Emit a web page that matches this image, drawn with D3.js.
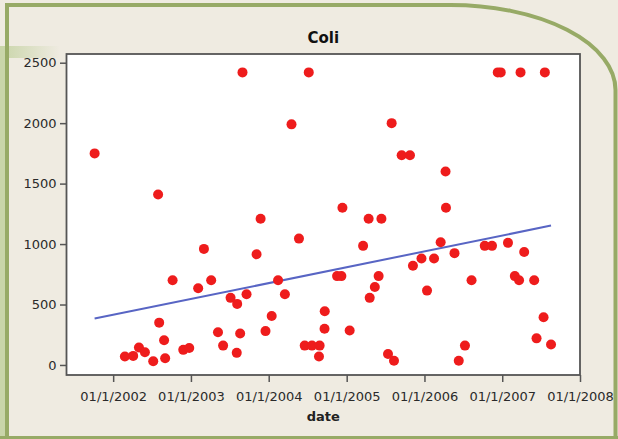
<!DOCTYPE html>
<html lang="en">
<head>
<meta charset="UTF-8">
<title>Coli</title>
<script src="https://cdn.jsdelivr.net/npm/d3@7/dist/d3.min.js"></script>
<style>
  html, body { margin: 0; padding: 0; background: #efebe1; }
  svg { display: block; }
  .axis .tick text { font-family: "DejaVu Sans", sans-serif; font-size: 13px; fill: #2a2a2a; }
  .axis .tick line { stroke: #555; stroke-width: 1.5px; }
  .axis .domain { display: none; }
</style>
</head>
<body>
<script>
// sampling dates and coli counts
const sampleDates = [
  "2001-10-06", "2002-02-25", "2002-04-05", "2002-05-02", "2002-05-30", "2002-07-08",
  "2002-07-31", "2002-08-05", "2002-08-28", "2002-09-02", "2002-10-07", "2002-11-26",
  "2002-12-24", "2003-02-04", "2003-03-03", "2003-04-06", "2003-05-08", "2003-06-01",
  "2003-07-06", "2003-08-06", "2003-08-04", "2003-08-20", "2003-08-31", "2003-09-19",
  "2003-11-05", "2003-11-24", "2003-12-17", "2004-01-15", "2004-02-14", "2004-03-17",
  "2004-04-17", "2004-05-22", "2004-06-18", "2004-07-07", "2004-07-22", "2004-08-24",
  "2004-08-27", "2004-09-20", "2004-09-19", "2004-11-17", "2004-12-07", "2004-12-12",
  "2005-01-15", "2005-03-19", "2005-04-14", "2005-04-19", "2005-05-13", "2005-05-31",
  "2005-06-13", "2005-07-14", "2005-07-31", "2005-08-11", "2005-09-16", "2005-10-25",
  "2005-11-08", "2005-12-18", "2006-01-13", "2006-02-15", "2006-03-18", "2006-04-10",
  "2006-04-12", "2006-05-22", "2006-06-11", "2006-07-10", "2006-08-10", "2006-10-11",
  "2006-11-14", "2006-12-11", "2006-12-25", "2007-01-28", "2007-03-01", "2007-03-21",
  "2007-03-28", "2007-04-14", "2007-05-31", "2007-06-11", "2007-07-14", "2007-07-20",
  "2007-08-18"
];
const coliValues = [
  1750, 70, 75, 145, 105, 30,
  1410, 350, 205, 55, 700, 125,
  140, 635, 960, 700, 270, 160,
  555, 505, 100, 260, 2420, 585,
  915, 1210, 280, 405, 700, 585,
  1990, 1045, 160, 2420, 160, 70,
  160, 445, 300, 735, 735, 1300,
  285, 985, 1210, 555, 645, 735,
  1210, 90, 2000, 35, 1735, 1735,
  820, 880, 615, 880, 1015, 1600,
  1300, 925, 35, 160, 700, 985,
  985, 2420, 2420, 1010, 735, 700,
  2420, 935, 700, 220, 395, 2420,
  170
];
const yTickValues = [0, 500, 1000, 1500, 2000, 2500];
const xTickYears = [2002, 2003, 2004, 2005, 2006, 2007, 2008];

const width = 618, height = 439;
const plot = { left: 66.5, right: 580, top: 54, bottom: 375 };

const parseDate = d3.timeParse("%Y-%m-%d");
const points = sampleDates.map((d, i) => ({ date: parseDate(d), value: coliValues[i] }));

const x = d3.scaleTime()
  .domain([new Date(2001, 4, 27), new Date(2008, 0, 1)])
  .range([plot.left, plot.right]);
const y = d3.scaleLinear()
  .domain([-83, 2572])
  .range([plot.bottom, plot.top]);

const svg = d3.select("body").append("svg")
  .attr("width", width)
  .attr("height", height);

// page decoration: beige card with green border, rounded at top right
const defs = svg.append("defs");
const fade = defs.append("linearGradient").attr("id", "fade");
fade.append("stop").attr("offset", "0%").attr("stop-color", "#c9d5a9").attr("stop-opacity", 1);
fade.append("stop").attr("offset", "100%").attr("stop-color", "#c9d5a9").attr("stop-opacity", 0);

svg.append("rect")
  .attr("x", 0).attr("y", 0).attr("width", width).attr("height", height)
  .attr("fill", "#efebe1");
svg.append("rect")
  .attr("x", 0).attr("y", 46).attr("width", 5).attr("height", height - 46)
  .attr("fill", "#c9d5a9");
svg.append("rect")
  .attr("x", 0).attr("y", 46).attr("width", 60).attr("height", 12)
  .attr("fill", "url(#fade)");
svg.append("path")
  .attr("d", "M7,445 L7,5 L450,5 A165,85 0 0 1 615.5,90 L615.5,445")
  .attr("fill", "none")
  .attr("stroke", "#97aa66")
  .attr("stroke-width", 4);
svg.append("line")
  .attr("x1", 0).attr("x2", width).attr("y1", 437.5).attr("y2", 437.5)
  .attr("stroke", "#97aa66")
  .attr("stroke-width", 3);

// plot area
svg.append("rect")
  .attr("x", plot.left).attr("y", plot.top)
  .attr("width", plot.right - plot.left).attr("height", plot.bottom - plot.top)
  .attr("fill", "#fff")
  .attr("stroke", "#555")
  .attr("stroke-width", 1.8);

svg.append("g")
  .attr("class", "axis")
  .attr("transform", `translate(0,${plot.bottom})`)
  .call(d3.axisBottom(x)
    .tickValues(xTickYears.map(yr => new Date(yr, 0, 1)))
    .tickFormat(d3.timeFormat("%m/%-d/%Y"))
    .tickSize(7)
    .tickPadding(10));

svg.append("g")
  .attr("class", "axis")
  .attr("transform", `translate(${plot.left},0)`)
  .call(d3.axisLeft(y)
    .tickValues(yTickValues)
    .tickFormat(d3.format("d"))
    .tickSize(6.5)
    .tickPadding(3.5));

// titles
svg.append("text")
  .attr("x", (plot.left + plot.right) / 2)
  .attr("y", 43)
  .attr("text-anchor", "middle")
  .style("font", "bold 15px 'DejaVu Sans', sans-serif")
  .style("fill", "#111")
  .text("Coli");

svg.append("text")
  .attr("x", (plot.left + plot.right) / 2)
  .attr("y", 421)
  .attr("text-anchor", "middle")
  .style("font", "bold 13px 'DejaVu Sans', sans-serif")
  .style("fill", "#222")
  .text("date");

// least squares fit line over the data range
const xs = points.map(p => +p.date), ys = points.map(p => p.value);
const mx = d3.mean(xs), my = d3.mean(ys);
const slope = d3.sum(xs, (v, i) => (v - mx) * (ys[i] - my)) / d3.sum(xs, v => (v - mx) ** 2);
const fit = t => my + slope * (+t - mx);
const ext = d3.extent(points, p => p.date);

svg.append("line")
  .attr("x1", x(ext[0])).attr("y1", y(fit(ext[0])))
  .attr("x2", x(ext[1])).attr("y2", y(fit(ext[1])))
  .attr("stroke", "#5865c4")
  .attr("stroke-width", 2);

svg.append("g")
  .selectAll("circle")
  .data(points)
  .join("circle")
  .attr("cx", d => x(d.date))
  .attr("cy", d => y(d.value))
  .attr("r", 5)
  .attr("fill", "#ee1c1c");
</script>
</body>
</html>
